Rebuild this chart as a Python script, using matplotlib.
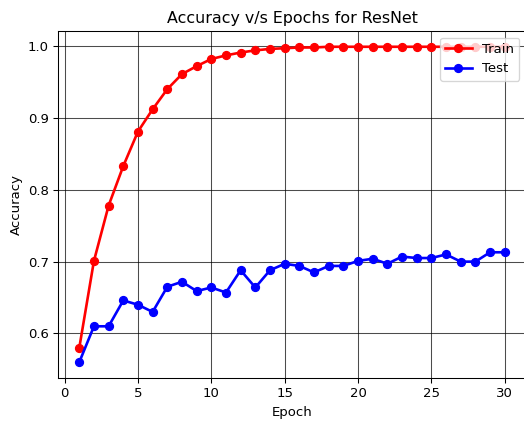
import matplotlib
matplotlib.use("Agg")
import matplotlib.pyplot as plt

epochs = list(range(1, 31))
train_acc = [0.580, 0.701, 0.778, 0.833, 0.881, 0.912, 0.940, 0.961, 0.972, 0.982,
             0.987, 0.991, 0.994, 0.996, 0.997, 0.998, 0.998, 0.999, 0.999, 0.999,
             0.999, 0.999, 0.999, 0.999, 0.999, 0.999, 0.999, 0.999, 0.999, 0.999]
test_acc = [0.560, 0.610, 0.610, 0.646, 0.640, 0.630, 0.665, 0.672, 0.659, 0.664,
            0.657, 0.688, 0.664, 0.688, 0.697, 0.694, 0.685, 0.694, 0.694, 0.701,
            0.704, 0.697, 0.707, 0.705, 0.705, 0.710, 0.700, 0.700, 0.713, 0.713]

dpi = 95
fig = plt.figure(figsize=(524/dpi, 421/dpi), dpi=dpi)
# the right edge of the axes falls just outside the picture, as in the original
ax = fig.add_axes([58/524, 1 - 378/421, (526-58)/524, (378-31)/421])
ax.plot(epochs, train_acc, 'ro-', linewidth=2, label='Train')
ax.plot(epochs, test_acc, 'bo-', linewidth=2, label='Test')
ax.set_title('Accuracy v/s Epochs for ResNet')
ax.set_xlabel('Epoch')
ax.set_ylabel('Accuracy')
ax.grid(True, color='black', linewidth=0.8, alpha=0.7)
ax.legend(loc='upper right')
fig.savefig('out.png', dpi=dpi)
